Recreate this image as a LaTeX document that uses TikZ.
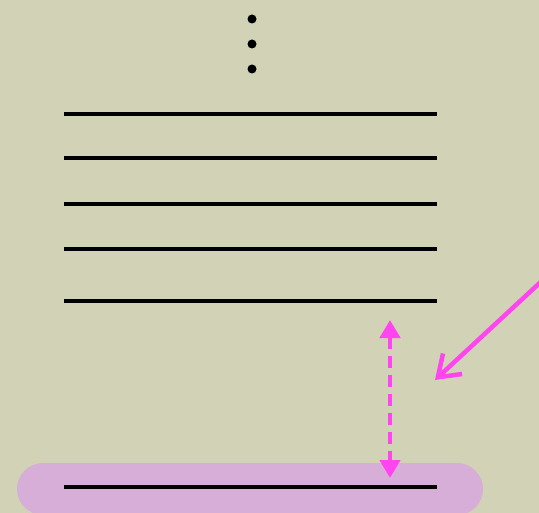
\documentclass[tikz,border=0pt]{standalone}
\usetikzlibrary{arrows.meta}
\definecolor{bgc}{HTML}{D2D2B6}
\definecolor{mag}{HTML}{FF44F0}
\definecolor{band}{HTML}{D6AED8}
\tikzset{
  level/.style={line width=3.2bp, black},
  dotc/.style={circle, fill=black, inner sep=0pt, minimum size=9bp},
  ptr/.style={mag, line width=4.5bp, -{Straight Barb[length=20bp,width=28bp,line width=4.5bp]}},
  gap/.style={mag, line width=4.5bp, dash pattern=on 12bp off 7bp, {Triangle[length=18bp,width=20bp]}-{Triangle[length=18bp,width=20bp]}}
}
\begin{document}
\begin{tikzpicture}[x=1bp,y=-1bp]
\fill[bgc] (0,0) rectangle (539,513);
\useasboundingbox (0,0) rectangle (539,513);
\fill[band, rounded corners=26bp] (17,463) rectangle (483,515);
\node[dotc] (d1) at (252,19) {};
\node[dotc] (d2) at (252,44) {};
\node[dotc] (d3) at (252,69) {};
\foreach \i/\y in {1/114,2/158,3/204,4/249,5/301,6/487}{
  \coordinate (l\i a) at (64,\y);
  \coordinate (l\i b) at (437,\y);
  \draw[level] (l\i a) -- (l\i b);
}
\coordinate (gt) at (390,320);
\coordinate (gb) at (390,478);
\draw[gap] (gt) -- (gb);
\coordinate (ps) at (545,278);
\coordinate (pe) at (435,380);
\draw[ptr] (ps) -- (pe);
\end{tikzpicture}
\end{document}
